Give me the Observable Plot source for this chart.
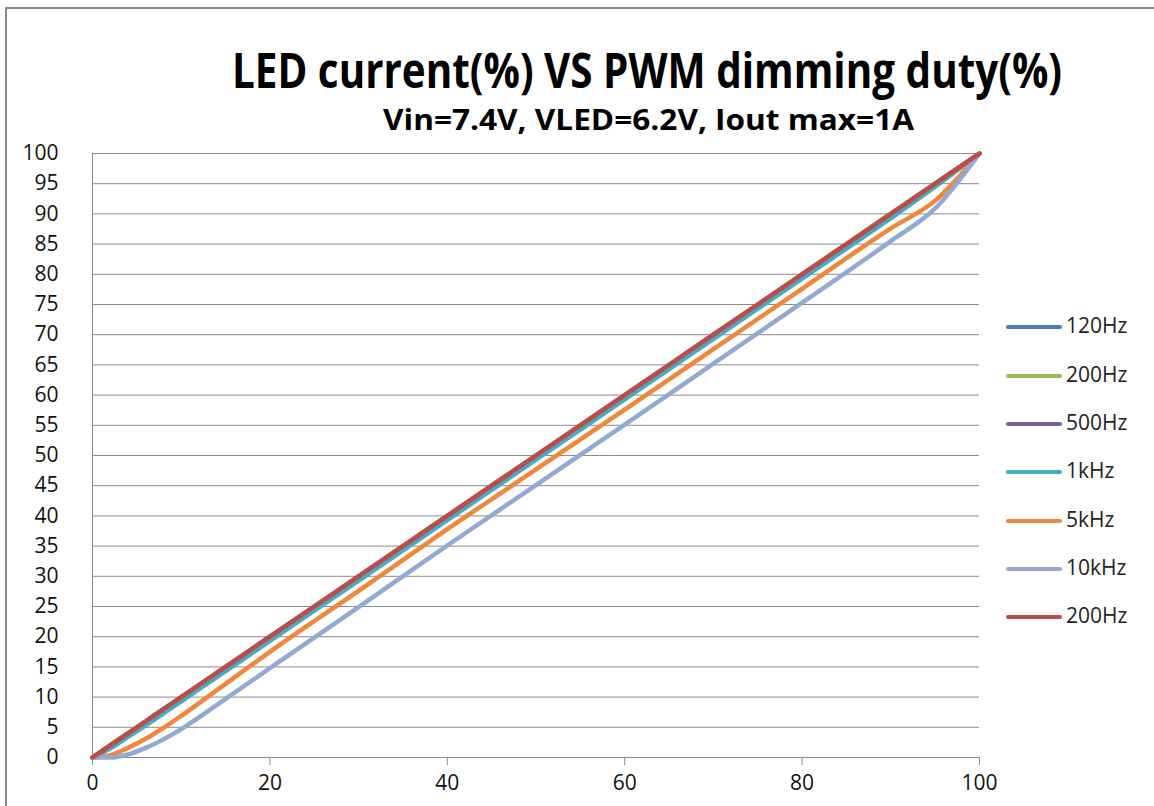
<!DOCTYPE html>
<html>
<head>
<meta charset="utf-8">
<script src="https://cdn.jsdelivr.net/npm/d3@7"></script>
<script src="https://cdn.jsdelivr.net/npm/@observablehq/plot@0.6"></script>
<style>
  html, body { margin: 0; padding: 0; background: #fff; overflow: hidden; }
  #wrap { position: relative; width: 1154px; height: 806px; overflow: hidden; background: #fff; }
  #frame { position: absolute; left: 5px; top: 7px; width: 1200px; height: 900px;
           border-left: 2px solid #8a8a8a; border-top: 2px solid #8a8a8a; }
  .ttl { position: absolute; left: 0; white-space: nowrap; font-family: "Open Sans", sans-serif;
         font-weight: bold; color: #000; transform-origin: 0 0; line-height: 1; }
  #chart { position: absolute; left: 0; top: 125px; }
  #legend { position: absolute; left: 1006px; top: 0; }
  .li { position: absolute; left: 0; width: 150px; height: 24px; }
  .li .sw { position: absolute; left: 0; top: 10px; width: 56px; height: 4px; border-radius: 2px; }
  .li .lb { position: absolute; left: 60px; top: -2px; font-family: "Open Sans", sans-serif;
            font-size: 21px; color: #222; line-height: 24px; transform-origin: 0 50%; }
</style>
</head>
<body>
<div id="wrap">
  <div id="frame"></div>
  <div id="title" class="ttl">LED current(%) VS PWM dimming duty(%)</div>
  <div id="subtitle" class="ttl">Vin=7.4V, VLED=6.2V, Iout max=1A</div>
  <div id="chart"></div>
  <div id="legend"></div>
</div>
<script>
// ---- data ----
const duty = [0, 2, 4, 6, 8, 10, 15, 20, 30, 40, 50, 60, 70, 80, 90, 95, 100];
const s120Hz  = [0, 2, 4, 6, 8, 10, 15, 20, 30, 40, 50, 60, 70, 80, 90, 95, 100];
const s200Hz  = [0, 2, 4, 6, 8, 10, 15, 20, 30, 40, 50, 60, 70, 80, 90, 95, 100];
const s500Hz  = [0, 1.8, 3.7, 5.7, 7.7, 9.7, 14.7, 19.7, 29.7, 39.7, 49.7, 59.7, 69.7, 79.7, 89.7, 94.8, 100];
const s1kHz   = [0, 1.5, 3.4, 5.3, 7.3, 9.3, 14.3, 19.3, 29.3, 39.3, 49.3, 59.3, 69.3, 79.3, 89.3, 94.5, 100];
const s5kHz   = [0, 0.4, 1.6, 3.1, 4.9, 6.9, 12.2, 17.5, 27.6, 37.8, 47.7, 57.6, 67.6, 77.6, 87.6, 92.2, 100];
const s10kHz  = [0, 0, 0.5, 1.6, 3.0, 4.7, 9.7, 14.8, 24.9, 35.1, 45.1, 55.1, 65.2, 75.3, 85.5, 90.9, 100];
const s200Hzb = [0, 2, 4, 6, 8, 10, 15, 20, 30, 40, 50, 60, 70, 80, 90, 95, 100];

const seriesNames  = ["120Hz", "200Hz", "500Hz", "1kHz", "5kHz", "10kHz", "200Hz "];
const seriesValues = [s120Hz, s200Hz, s500Hz, s1kHz, s5kHz, s10kHz, s200Hzb];
const seriesColors = ["#4A7EBB", "#98B954", "#7D5FA0", "#46AAC5", "#F0873A", "#91A9D4", "#BE4B48"];

const xTicks = [0, 20, 40, 60, 80, 100];
const yTicks = d3.range(0, 101, 5);

// long table
const rows = [];
seriesNames.forEach((name, i) => {
  duty.forEach((d, j) => rows.push({series: name, duty: d, value: seriesValues[i][j]}));
});

const W = 1154, H = 681;
const grid = "#8c8c8c";
const plot = Plot.plot({
  width: W, height: H,
  marginLeft: 92, marginRight: 175, marginTop: 28, marginBottom: 49,
  style: {fontFamily: "'Open Sans', sans-serif", fontSize: "21px", color: "#111", background: "transparent"},
  x: {domain: [0, 100], axis: null},
  y: {domain: [0, 100], axis: null},
  color: {domain: seriesNames, range: seriesColors},
  marks: [
    Plot.gridY(yTicks, {stroke: grid, strokeOpacity: 1, strokeWidth: 1}),
    Plot.ruleX([0], {stroke: grid, strokeWidth: 1}),
    Plot.ruleY([0], {stroke: grid, strokeWidth: 1}),
    Plot.axisX(xTicks, {tickSize: 8, tickPadding: 10, stroke: grid, fill: "#111", fontSize: 21, label: null}),
    Plot.axisY(yTicks, {tickSize: 0, tickPadding: 34, fill: "#111", fontSize: 21, label: null}),
    Plot.line(rows, {x: "duty", y: "value", z: "series", stroke: "series",
                     strokeWidth: 4.5, curve: "monotone-x", strokeLinecap: "round", strokeLinejoin: "round"})
  ]
});
document.getElementById("chart").appendChild(plot);

// legend
const legend = document.getElementById("legend");
const legendY = [327, 376, 424, 472, 521, 569, 617];
seriesNames.forEach((name, i) => {
  const li = document.createElement("div");
  li.className = "li";
  li.style.top = (legendY[i] - 12) + "px";
  const sw = document.createElement("div");
  sw.className = "sw";
  sw.style.background = seriesColors[i];
  const lb = document.createElement("div");
  lb.className = "lb";
  lb.textContent = name.trim();
  li.appendChild(sw); li.appendChild(lb);
  legend.appendChild(li);
});

// titles: fit to measured width
function fit(id, size, left, right, top) {
  const el = document.getElementById(id);
  el.style.fontSize = size + "px";
  el.style.left = left + "px";
  el.style.top = top + "px";
  const w = el.getBoundingClientRect().width;
  el.style.transform = `scaleX(${(right - left) / w})`;
}
fit("title", 48, 232, 1062, 46);
fit("subtitle", 29, 383, 914, 104);
</script>
</body>
</html>
